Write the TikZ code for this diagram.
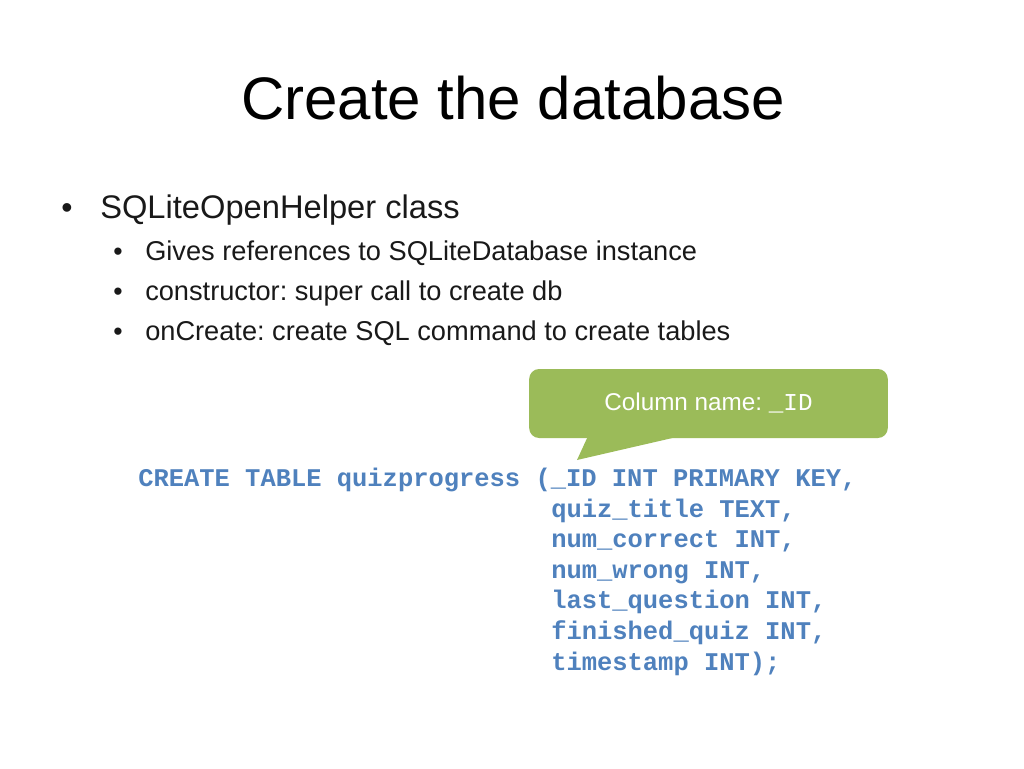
\documentclass[tikz,border=0pt]{standalone}
\usepackage{fontspec}
\setmainfont{Liberation Sans}
\newfontfamily\codefont{Liberation Mono}
\usepackage{tikz}
\usetikzlibrary{calc,positioning,shapes}
\definecolor{sqlblue}{RGB}{79,129,189}
\definecolor{tipgreen}{RGB}{155,187,89}
\definecolor{txtgray}{RGB}{25,25,25}
\frenchspacing

\begin{document}
\begin{tikzpicture}[x=0.75pt,y=-0.75pt,
  ttl/.style={anchor=base,inner sep=0pt,font=\fontsize{45}{54}\selectfont},
  lvla/.style={anchor=base west,inner sep=0pt,text=txtgray,font=\fontsize{24.5}{29}\selectfont},
  lvlb/.style={anchor=base west,inner sep=0pt,text=txtgray,font=\fontsize{20.4}{24}\selectfont},
  dot/.style={anchor=base,inner sep=0pt,text=txtgray},
  code/.style={anchor=base west,inner sep=0pt,text=sqlblue,font=\codefont\bfseries\fontsize{19.1}{23}\selectfont},
  callout/.style={fill=tipgreen,rounded corners=7.5pt,minimum width=269pt,minimum height=51.75pt,text=white,font=\fontsize{18.2}{22}\selectfont}]
\useasboundingbox (0,0) rectangle (1024,768);

\node[ttl] (title) at (513,119) {Create the database};

\node[dot,font=\fontsize{24}{29}\selectfont] (d1) at (67,218) {•};
\node[lvla] (cls) at (100,218) {SQLiteOpenHelper class};

\node[dot,font=\fontsize{20}{24}\selectfont] (d2) at (118,260) {•};
\node[lvlb] (gives) at (145,260) {Gives references to SQLiteDatabase instance};
\node[dot,font=\fontsize{20}{24}\selectfont] (d3) at (118,300) {•};
\node[lvlb] (ctor) at (145,300) {constructor: super call to create db};
\node[dot,font=\fontsize{20}{24}\selectfont] (d4) at (118,340) {•};
\node[lvlb] (oncr) at (145,340) {onCreate: create SQL command to create tables};

% speech bubble
\node[callout] (bubble) at (708.5,403.5) {Column name: {\codefont\_ID}};
\coordinate (tip) at (577,460);
\fill[tipgreen] ($(bubble.south west)+(59,-2)$) -- (tip) -- ($(bubble.south west)+(151,-2)$) -- cycle;

% sql statement
\node[code] (sql1) at (138,486) {CREATE TABLE quizprogress (\_ID INT PRIMARY KEY,};
\node[code] (sql2) at (551,517) {quiz\_title TEXT,};
\node[code] (sql3) at (551,547) {num\_correct INT,};
\node[code] (sql4) at (551,578) {num\_wrong INT,};
\node[code] (sql5) at (551,608) {last\_question INT,};
\node[code] (sql6) at (551,639) {finished\_quiz INT,};
\node[code] (sql7) at (551,670) {timestamp INT);};
\end{tikzpicture}
\end{document}
